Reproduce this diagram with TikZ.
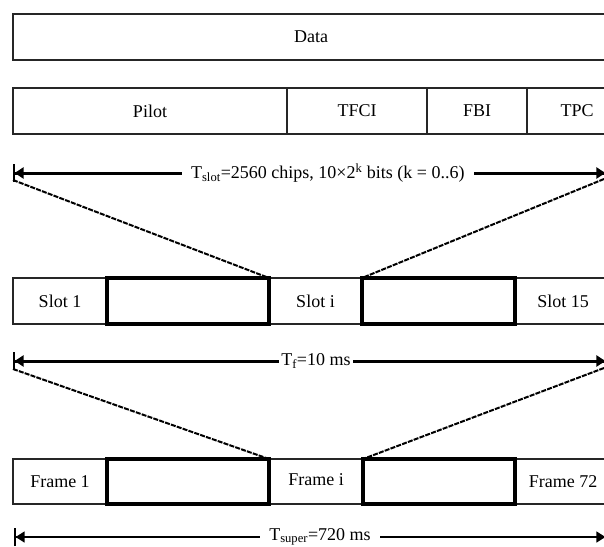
\documentclass[tikz,border=0pt]{standalone}
\usepackage{fontspec}
\setmainfont{Liberation Serif}
\usetikzlibrary{arrows.meta, positioning}

\begin{document}
\begin{tikzpicture}[x=1pt, y=-1pt,
        cell/.style={draw=black!85, line width=1.4pt, minimum height=46pt, inner sep=0pt,
            outer sep=0pt, anchor=north west, font=\fontsize{18}{21}\selectfont},
        gapcell/.style={cell, draw=black, line width=3.2pt},
        spanline/.style={line width=3pt,
            {Bar[width=18pt,line width=1.6pt]Triangle[length=9pt,width=11pt]}-{Triangle[length=9pt,width=11pt]Bar[width=18pt,line width=1.6pt]}},
        spanlabel/.style={fill=white, inner xsep=9pt, inner ysep=1pt, font=\fontsize{18}{21}\selectfont},
        fan/.style={line width=2pt, dash pattern=on 5pt off 1.2pt}]
        \clip (0,0) rectangle (604,546);

        % Data and slot fields
        \node[cell, minimum width=596pt] (data) at (13,14) {Data};
        \node[cell, minimum width=274pt] (pilot) at (13,88) {Pilot};
        \node[cell, minimum width=140pt] (tfci) at (pilot.north east) {TFCI};
        \node[cell, minimum width=100pt] (fbi) at (tfci.north east) {\raisebox{-4pt}{FBI}};
        \node[cell, minimum width=100pt] (tpc) at (fbi.north east) {TPC};

        % Slot duration
        \coordinate (slotL) at (13,173);
        \coordinate (slotR) at (607,173);
        \draw[spanline] (slotL) -- (slotR)
            node[spanlabel, pos=0.53] (tslot) {T\textsubscript{slot}=2560 chips, 10×2\textsuperscript{k} bits (k = 0..6)};

        % Slots of one frame
        \node[cell, minimum width=94pt] (slot1) at (13,278) {Slot 1};
        \node[cell, minimum width=93pt, right=162pt of slot1.north east, anchor=north west] (sloti) {Slot i};
        \node[cell, minimum width=96pt, right=153pt of sloti.north east, anchor=north west] (slot15) {Slot 15};
        \node[gapcell, minimum width=162pt] (slotgapA) at (slot1.north east) {};
        \node[gapcell, minimum width=153pt] (slotgapB) at (sloti.north east) {};

        \coordinate (slotLb) at (13,180);
        \coordinate (slotRb) at (604,179);
        \draw[fan] (slotLb) -- (sloti.north west);
        \draw[fan] (slotRb) -- (sloti.north east);

        % Frame duration
        \coordinate (frameL) at (13,361);
        \coordinate (frameR) at (607,361);
        \draw[spanline] (frameL) -- (frameR)
            node[spanlabel, pos=0.51, inner xsep=2pt] (tf) {T\textsubscript{f}=10 ms};

        % Frames of one superframe
        \node[cell, minimum width=94pt, minimum height=45pt] (frame1) at (13,459) {Frame 1};
        \node[cell, minimum width=94pt, minimum height=45pt, right=162pt of frame1.north east, anchor=north west] (framei) {\raisebox{4pt}{Frame i}};
        \node[cell, minimum width=96pt, minimum height=45pt, right=152pt of framei.north east, anchor=north west] (frame72) {Frame 72};
        \node[gapcell, minimum width=162pt, minimum height=45pt] (framegapA) at (frame1.north east) {};
        \node[gapcell, minimum width=152pt, minimum height=45pt] (framegapB) at (framei.north east) {};

        \coordinate (frameLb) at (13,369);
        \coordinate (frameRb) at (604,368);
        \draw[fan] (frameLb) -- (framei.north west);
        \draw[fan] (frameRb) -- (framei.north east);

        % Superframe duration
        \coordinate (superL) at (14,537);
        \coordinate (superR) at (607,537);
        \draw[spanline, line width=1.5pt] (superL) -- (superR)
            node[spanlabel, pos=0.516] (tsuper) {T\textsubscript{super}=720 ms};
\end{tikzpicture}
\end{document}
